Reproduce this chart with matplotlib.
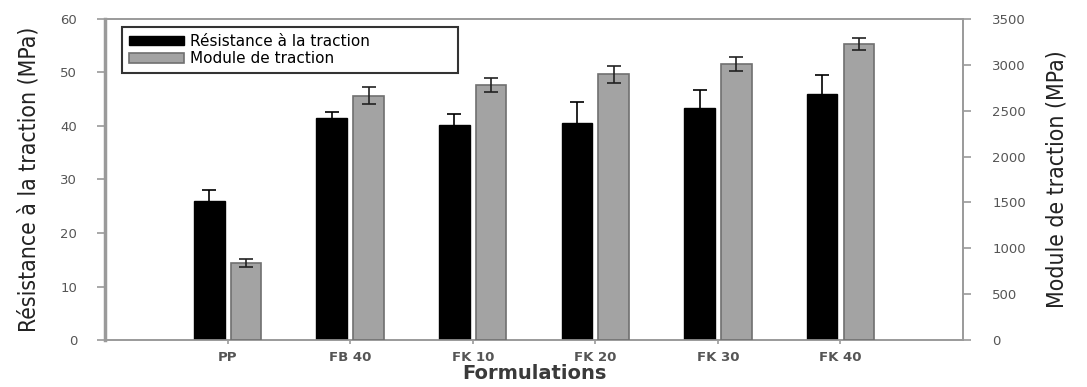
import numpy as np
import matplotlib
matplotlib.use('Agg')
import matplotlib.pyplot as plt

# data
formulations = ['PP', 'FB 40', 'FK 10', 'FK 20', 'FK 30', 'FK 40']
resistance = [26.0, 41.5, 40.1, 40.5, 43.3, 45.9]       # MPa, left axis
resistance_err = [2.1, 1.1, 2.1, 4.0, 3.5, 3.6]
module = [842, 2665, 2780, 2897, 3005, 3228]            # MPa, right axis
module_err = [45, 95, 73, 95, 76, 65]

grey = '#9a9a9a'
narrow = ['DejaVu Sans Condensed', 'Liberation Sans Narrow', 'DejaVu Sans']
x = np.arange(len(formulations))
w = 0.25

fig = plt.figure(figsize=(10.87, 3.87), dpi=100)
ax = fig.add_axes([0.0966, 0.1214, 0.7894, 0.8296])
ax2 = ax.twinx()

b1 = ax.bar(x - 0.15, resistance, w, color='black', edgecolor='black', zorder=3,
            label='Résistance à la traction')
ax.errorbar(x - 0.15, resistance, yerr=resistance_err, fmt='none', ecolor='black',
            elinewidth=1.2, capsize=5, capthick=1.2, zorder=4)

b2 = ax2.bar(x + 0.15, module, w, color='#a3a3a3', edgecolor='#707070', linewidth=1.2,
             zorder=3, label='Module de traction')
ax2.errorbar(x + 0.15, module, yerr=module_err, fmt='none', ecolor='#222222',
             elinewidth=1.2, capsize=5, capthick=1.2, zorder=4)

ax.set_xlim(-1, 6)
ax.set_ylim(0, 60)
ax2.set_ylim(0, 3500)
ax.set_yticks(range(0, 61, 10))
ax2.set_yticks(range(0, 3501, 500))
ax.set_xticks(x)
ax.set_xticklabels(formulations, fontsize=9.5, fontweight='bold', color='#444444')

for a in (ax, ax2):
    for s in a.spines.values():
        s.set_color(grey)
        s.set_linewidth(1.2)
    a.tick_params(colors=grey, labelcolor='#555555', labelsize=9.5, length=6, width=1.2)
ax.spines['left'].set_linewidth(2.5)
ax.tick_params(axis='x', length=3, pad=5)
ax2.tick_params(axis='y', pad=15)
ax.tick_params(axis='y', pad=14)

ax.set_ylabel('Résistance à la traction (MPa)', family=narrow, fontstretch='condensed',
              fontsize=16.5, color='#222222', labelpad=14)
ax2.set_ylabel('Module de traction (MPa)', family=narrow, fontstretch='condensed',
               fontsize=16.5, color='#222222', labelpad=14)
ax.set_xlabel('Formulations', family='DejaVu Sans', fontweight='bold', fontsize=14,
              color='#3a3a3a', labelpad=0)

leg = ax.legend(handles=[b1, b2], loc='upper left', bbox_to_anchor=(0.0198, 0.8, 0.392, 0.175),
                mode='expand', fontsize=11, frameon=True, fancybox=False, edgecolor='black',
                handlelength=3.6, handleheight=0.6, handletextpad=0.4,
                borderpad=0.45, labelspacing=0.15, borderaxespad=0)
leg.get_frame().set_linewidth(1.5)
leg.set_zorder(10)

fig.savefig('out.png', dpi=100)
